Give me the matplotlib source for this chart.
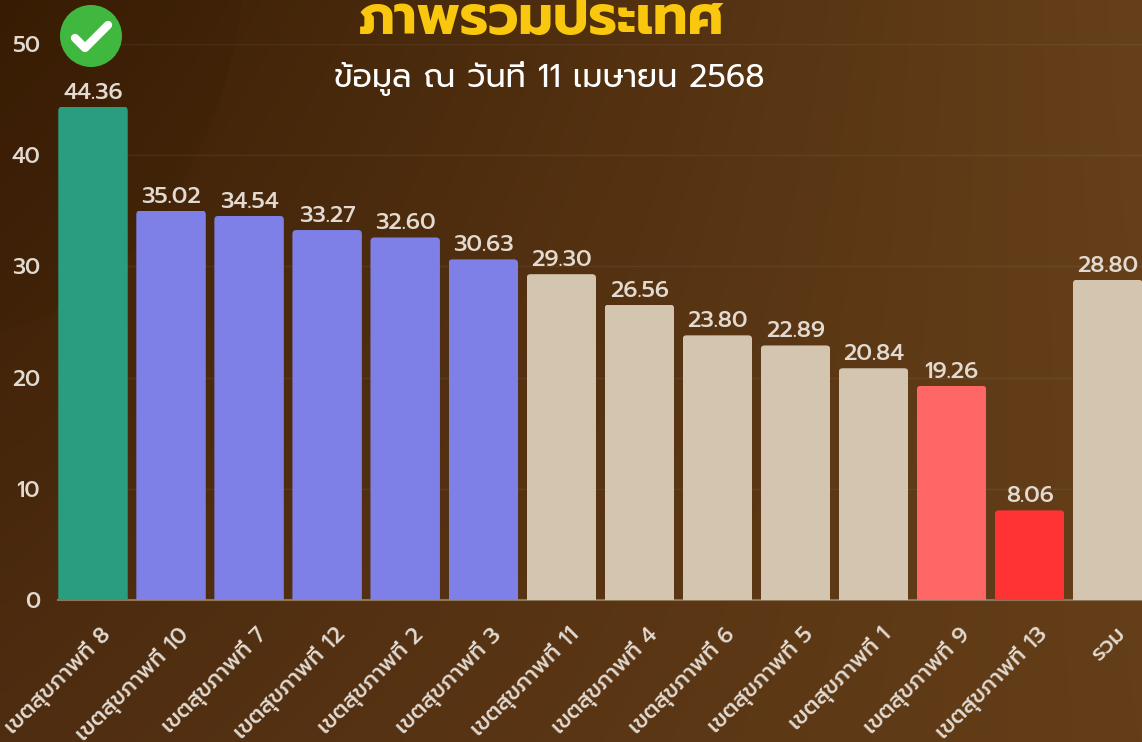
import matplotlib
matplotlib.use('Agg')
import matplotlib.pyplot as plt
import numpy as np
from matplotlib import font_manager as fm
from matplotlib.patches import Circle, Ellipse, FancyBboxPatch
from matplotlib.transforms import ScaledTranslation

# ข้อมูลจากภาพ
regions = ['เขตสุขภาพที่ 8', 'เขตสุขภาพที่ 10', 'เขตสุขภาพที่ 7', 'เขตสุขภาพที่ 12', 'เขตสุขภาพที่ 2',
           'เขตสุขภาพที่ 3', 'เขตสุขภาพที่ 11', 'เขตสุขภาพที่ 4', 'เขตสุขภาพที่ 6', 'เขตสุขภาพที่ 5',
           'เขตสุขภาพที่ 1', 'เขตสุขภาพที่ 9', 'เขตสุขภาพที่ 13', 'รวม']
values = [44.36, 35.02, 34.54, 33.27, 32.60, 30.63, 29.30, 26.56, 23.80, 22.89, 20.84, 19.26, 8.06, 28.80]
colors = ['#2A9D7F', '#7F7FE8', '#7F7FE8', '#7F7FE8', '#7F7FE8', '#7F7FE8', '#D4C5B0', '#D4C5B0',
          '#D4C5B0', '#D4C5B0', '#D4C5B0', '#FF6666', '#FF3333', '#D4C5B0']
yticks = [0, 10, 20, 30, 40, 50]
title = 'ภาพรวมประเทศ'
subtitle = 'ข้อมูล ณ วันที่ 11 เมษายน 2568'

names = {f.name for f in fm.fontManager.ttflist}
font = next(n for n in ['Prompt', 'Kanit', 'Sarabun'] if n in names)
plt.rcParams['font.family'] = [font, 'DejaVu Sans']

W, H = 1142, 742
TEXT = '#E2DAD0'
fig = plt.figure(figsize=(W / 100, H / 100), dpi=100)

# พื้นหลังไล่สี
bg = fig.add_axes([0, 0, 1, 1], zorder=0)
xx, yy = np.meshgrid(np.linspace(0, 1, 300), np.linspace(0, 1, 200))
c_tl, c_tr = np.array([0x39, 0x1D, 0x04]), np.array([0x66, 0x40, 0x1A])
c_bl, c_br = np.array([0x4F, 0x2D, 0x11]), np.array([0x64, 0x3E, 0x18])
grad = ((1 - xx) * (1 - yy))[..., None] * c_tl + (xx * (1 - yy))[..., None] * c_tr \
    + ((1 - xx) * yy)[..., None] * c_bl + (xx * yy)[..., None] * c_br
bg.imshow(grad / 255, extent=(0, W, H, 0), aspect='auto', interpolation='bilinear')
bg.add_patch(Ellipse((-60, -60), 610, 800, color='#2E1700', alpha=0.12, lw=0))
bg.set_xlim(0, W)
bg.set_ylim(H, 0)
bg.axis('off')

# กราฟแท่ง
ax = fig.add_axes([58 / W, 1 - 600 / H, (W - 58) / W, 556 / H], zorder=1)
ax.patch.set_alpha(0)
x = np.arange(len(values))
bars = ax.bar(x, values, width=0.89, color=colors, linewidth=0, zorder=3)
ax.set_xlim(-0.4485, 13.44)
ax.set_ylim(0, 50)

# มุมโค้งด้านบนของแท่ง
aspect = (50 / 556) / (13.8885 / (W - 58))
for bar in bars:
    clip = FancyBboxPatch((bar.get_x(), -2), bar.get_width(), bar.get_height() + 2,
                          boxstyle='round,pad=0,rounding_size=0.05',
                          mutation_aspect=aspect, transform=ax.transData)
    bar.set_clip_path(clip)

for xi, v in zip(x, values):
    ax.annotate(f'{v:.2f}', (xi, v), xytext=(0, 3), textcoords='offset pixels', ha='center', va='bottom',
                fontsize=16.5, fontweight=500, color=TEXT, annotation_clip=False, zorder=4)

ax.set_yticks(yticks)
ax.set_yticklabels(yticks, fontsize=16, fontweight=500, color=TEXT)
ax.tick_params(axis='y', length=0, pad=13)
ax.yaxis.grid(True, color='#FFFFFF', alpha=0.06, lw=1, zorder=1)
ax.set_axisbelow(True)
for s in ax.spines.values():
    s.set_visible(False)
ax.axhline(0, color='#8F7658', lw=1.5, zorder=2, clip_on=False)

# ป้ายแกน x เอียง 45 องศา
ax.set_xticks(x)
ax.set_xticklabels(regions, rotation=45, ha='right', rotation_mode='anchor', fontsize=16, fontweight=500, color=TEXT)
ax.tick_params(axis='x', length=0, pad=17)
offset = ScaledTranslation(7 / 100, 0, fig.dpi_scale_trans)
for lab in ax.get_xticklabels():
    lab.set_transform(lab.get_transform() + offset)

# หัวข้อ
fig.text(542 / W, 1 - 20 / H, title, fontsize=39, fontweight='bold', color='#F9C80E', ha='center', va='center')
fig.text(549 / W, 1 - 78 / H, subtitle, fontsize=23, color='#FFFFFF', ha='center', va='center')

# เครื่องหมายถูก
over = fig.add_axes([0, 0, 1, 1], zorder=2)
over.set_xlim(0, W)
over.set_ylim(H, 0)
over.axis('off')
over.add_patch(Circle((91, 36), 31, color='#40B840', lw=0))
over.plot([75, 85, 108], [38, 48, 25], color='white', lw=6, solid_capstyle='round', solid_joinstyle='round')

fig.savefig('out.png', dpi=100)
